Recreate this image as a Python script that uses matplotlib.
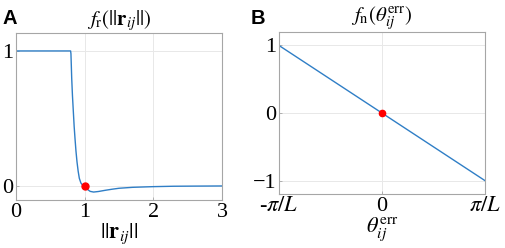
import numpy as np
import matplotlib.pyplot as plt

plt.rcParams['font.family'] = ['Liberation Serif', 'DejaVu Serif']
plt.rcParams['mathtext.fontset'] = 'stix'

# panel A: f_r(||r_ij||)
r_vals = [0.0, 0.795, 0.80, 0.805, 0.811, 0.822, 0.835, 0.847, 0.859, 0.873, 0.888,
          0.905, 0.922, 0.945, 0.97, 1.0, 1.04, 1.08, 1.13, 1.2, 1.3, 1.4, 1.5,
          1.7, 2.0, 2.3, 2.6, 3.0]
fr_vals = [1.0, 1.0, 0.98, 0.9, 0.8, 0.67, 0.55, 0.44, 0.353, 0.26, 0.18,
           0.11, 0.057, 0.022, 0.006, 0.0, -0.025, -0.04, -0.045, -0.041, -0.032, -0.024, -0.017,
           -0.01, -0.005, -0.002, -0.001, 0.0]
r_eq = [1.0]
fr_eq = [0.0]

# panel B: f_n(theta_err), linear from 1 to -1
th_vals = [-1.0, 1.0]  # in units of pi/L
fn_vals = [1.0, -1.0]
th_eq = [0.0]
fn_eq = [0.0]

line_c = '#2f7ec6'
frame_c = '#a6a6a6'
grid_c = '#e8e8e8'

fig = plt.figure(figsize=(5.05, 2.48), dpi=100)
axA = fig.add_axes([0.0317, 0.1935, 0.4079, 0.6735])
axB = fig.add_axes([0.5525, 0.2177, 0.4075, 0.6533])

def style(ax):
    for s in ax.spines.values():
        s.set_color(frame_c)
        s.set_linewidth(0.8)
    ax.grid(True, color=grid_c, linewidth=0.7)
    ax.set_axisbelow(True)
    ax.tick_params(direction='in', length=2.5, width=0.6, color=frame_c,
                   labelsize=16, pad=2, top=False, right=False)

axA.plot(r_vals, fr_vals, color=line_c, lw=1.0)
axA.plot(r_eq, fr_eq, 'o', color='red', ms=5, zorder=3)
axA.set_xlim(0, 3)
axA.set_ylim(-0.104, 1.133)
axA.set_xticks([0, 1, 2, 3])
axA.set_yticks([0, 1])
style(axA)
axA.set_title(r'$f_\mathrm{r}(||\mathbf{r}_{ij}||)$', fontsize=15, pad=4)
axA.set_xlabel(r'$||\mathbf{r}_{ij}||$', fontsize=16, labelpad=0)

axB.plot(th_vals, fn_vals, color=line_c, lw=1.0)
axB.plot(th_eq, fn_eq, 'o', color='red', ms=4.5, zorder=3)
axB.set_xlim(-1, 1)
axB.set_ylim(-1.2, 1.2)
axB.set_xticks([-1, 0, 1])
axB.set_xticklabels([r'-$\pi/L$', '0', r'$\pi/L$'])
axB.set_yticks([-1, 0, 1])
axB.set_yticklabels(['\u22121', '0', '1'])
style(axB)
axB.set_title(r'$f_\mathrm{n}(\theta_{ij}^\mathrm{err})$', fontsize=15, pad=4)
axB.set_xlabel(r'$\theta_{ij}^\mathrm{err}$', fontsize=16, labelpad=0)

fig.text(0.004, 0.905, 'A', fontsize=14.5, fontweight='bold', family='Liberation Sans')
fig.text(0.497, 0.905, 'B', fontsize=14.5, fontweight='bold', family='Liberation Sans')

fig.savefig('out.png', dpi=100)
